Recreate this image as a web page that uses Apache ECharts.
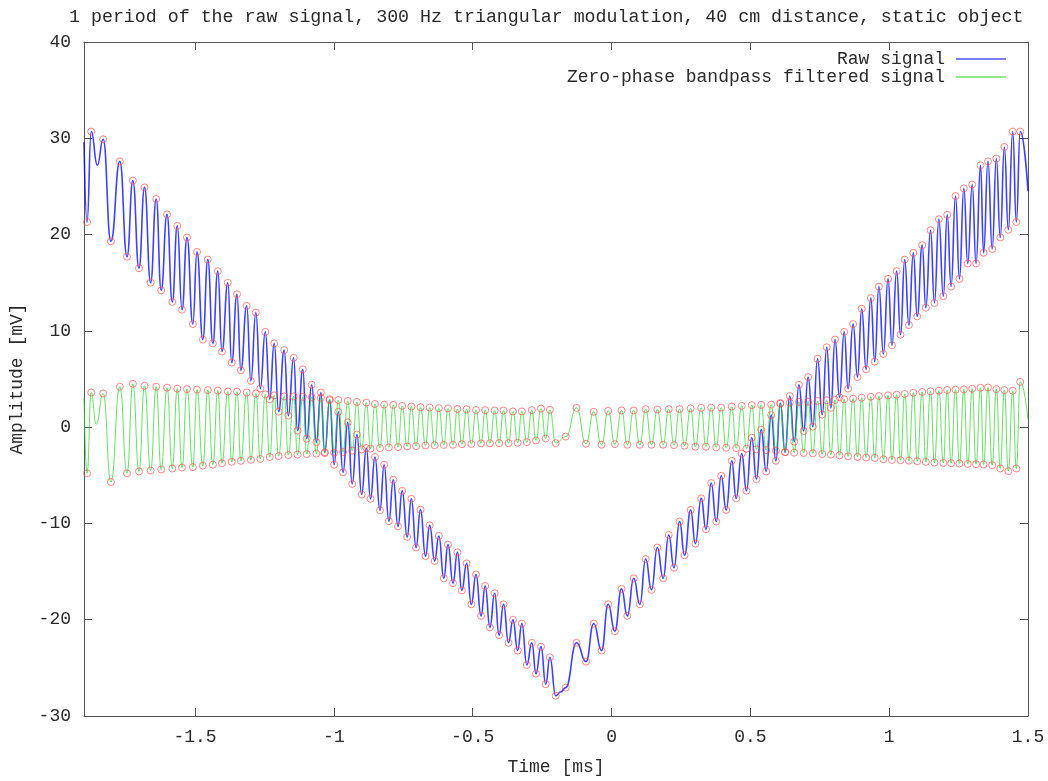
<!DOCTYPE html>
<html>
<head>
<meta charset="utf-8">
<script src="https://cdn.jsdelivr.net/npm/echarts@6/dist/echarts.min.js"></script>
<style>
html,body{margin:0;padding:0;background:#fff;}
#chart{width:1048px;height:781px;}
</style>
</head>
<body>
<div id="chart"></div>
<script>
// ---- Data ----
// Times (ms) of the circled extrema (shared by both signals)
const extremaT = [
-1.889,-1.874,-1.831,-1.803,-1.771,-1.745,-1.724,-1.702,-1.682,-1.660,
-1.640,-1.622,-1.601,-1.582,-1.564,-1.547,-1.529,-1.508,-1.493,-1.472,
-1.454,-1.436,-1.418,-1.403,-1.382,-1.368,-1.349,-1.335,-1.314,-1.299,
-1.281,-1.265,-1.247,-1.231,-1.215,-1.199,-1.179,-1.164,-1.145,-1.131,
-1.112,-1.098,-1.080,-1.063,-1.047,-1.033,-1.015,-0.999,-0.984,-0.967,
-0.950,-0.934,-0.917,-0.900,-0.883,-0.868,-0.852,-0.834,-0.819,-0.802,
-0.786,-0.769,-0.754,-0.736,-0.721,-0.704,-0.688,-0.670,-0.655,-0.637,
-0.622,-0.604,-0.589,-0.571,-0.555,-0.539,-0.522,-0.505,-0.488,-0.470,
-0.455,-0.438,-0.421,-0.405,-0.389,-0.371,-0.355,-0.338,-0.323,-0.305,
-0.287,-0.272,-0.254,-0.237,-0.222,-0.201,-0.165,-0.126,-0.092,-0.064,
-0.036,-0.012,0.012,0.036,0.057,0.080,0.102,0.123,0.144,0.165,
0.186,0.206,0.225,0.245,0.263,0.285,0.302,0.323,0.340,0.359,
0.377,0.395,0.413,0.433,0.449,0.469,0.486,0.505,0.522,0.539,
0.557,0.575,0.592,0.608,0.625,0.642,0.658,0.675,0.692,0.708,
0.725,0.742,0.759,0.775,0.790,0.805,0.821,0.838,0.852,0.870,
0.886,0.901,0.917,0.934,0.948,0.963,0.979,0.996,1.010,1.027,
1.041,1.056,1.071,1.087,1.101,1.119,1.132,1.149,1.163,1.179,
1.195,1.209,1.223,1.239,1.253,1.269,1.283,1.299,1.313,1.329,
1.340,1.356,1.371,1.386,1.400,1.415,1.429,1.445,1.458,1.472
];
// Raw signal value (mV) at each circled extremum
const rawExtrema = [
21.3,30.7,29.9,19.3,27.6,17.7,25.6,16.5,24.9,15.0,
23.7,14.2,22.1,13.0,20.9,12.2,19.7,10.7,18.2,9.1,
17.4,8.7,16.2,7.85,15.0,6.7,13.8,5.9,12.6,4.8,
11.9,4.0,9.9,2.9,8.7,1.6,8.0,1.2,7.2,-0.36,
6.0,-1.2,4.4,-1.56,3.6,-2.6,2.8,-3.9,1.6,-4.7,
0.5,-5.9,-0.77,-7.0,-2.17,-7.44,-3.1,-8.64,-3.9,-9.77,
-5.46,-10.3,-6.62,-11.4,-7.44,-12.5,-8.57,-13.4,-10.2,-13.9,
-11.3,-15.7,-12.2,-16.2,-13.0,-16.96,-14.15,-18.4,-15.3,-19.6,
-16.5,-20.8,-17.25,-21.6,-18.4,-22.4,-20.0,-23.2,-20.4,-24.7,
-22.4,-25.6,-22.8,-26.7,-23.9,-27.9,-27.05,-22.4,-24.35,-20.4,
-23.2,-18.4,-21.2,-16.8,-19.6,-15.7,-18.4,-13.7,-16.9,-12.5,
-15.7,-11.2,-14.6,-9.8,-13.3,-8.6,-12.1,-7.4,-10.6,-5.8,
-9.8,-5.05,-8.6,-3.5,-7.4,-2.75,-6.6,-1.1,-5.4,-0.26,
-4.6,1.25,-3.5,2.5,-2.6,3.23,-1.5,4.4,-0.4,5.2,
0.05,7.1,1.3,8.3,2.0,9.1,3.1,9.9,4.0,10.7,
5.2,12.3,6.0,13.4,6.8,14.6,7.6,15.4,8.5,16.2,
9.6,17.4,10.6,18.1,11.5,18.9,12.4,20.45,12.9,21.6,
13.6,22.05,14.6,24.0,15.4,24.8,17.0,25.2,17.0,27.2,
18.1,27.6,18.5,27.9,19.7,29.1,20.5,30.7,21.3,30.7
];
// Filtered signal value (mV) at each circled extremum
const filtExtrema = [
-4.8,3.6,3.5,-5.7,4.2,-4.8,4.5,-4.6,4.3,-4.5,
4.2,-4.4,4.1,-4.3,4.0,-4.2,3.95,-4.15,3.9,-4.0,
3.85,-3.9,3.8,-3.75,3.7,-3.6,3.7,-3.5,3.6,-3.4,
3.5,-3.3,3.4,-3.1,3.3,-3.0,3.2,-2.9,3.2,-2.85,
3.15,-2.8,3.1,-2.75,3.05,-2.7,2.9,-2.65,2.82,-2.59,
2.72,-2.44,2.62,-2.31,2.55,-2.24,2.41,-2.18,2.34,-2.10,
2.31,-2.07,2.21,-2.0,2.14,-1.97,2.07,-1.90,2.03,-1.88,
1.97,-1.85,1.95,-1.83,1.88,-1.77,1.85,-1.75,1.78,-1.69,
1.77,-1.68,1.73,-1.66,1.72,-1.66,1.63,-1.62,1.63,-1.56,
1.77,-1.39,1.93,-1.18,1.8,-1.66,-0.98,2.0,-1.72,1.59,
-1.83,1.69,-1.77,1.73,-1.83,1.73,-1.83,1.87,-1.83,1.83,
-1.83,1.87,-1.87,1.87,-1.93,1.95,-2.03,2.0,-2.03,2.03,
-2.1,2.03,-2.14,2.14,-2.18,2.21,-2.24,2.28,-2.31,2.31,
-2.38,2.34,-2.44,2.44,-2.59,2.55,-2.65,2.62,-2.69,2.65,
-2.72,2.72,-2.79,2.79,-2.86,2.82,-2.93,2.89,-3.03,2.96,
-3.1,3.06,-3.16,3.16,-3.2,3.23,-3.34,3.3,-3.41,3.37,
-3.44,3.45,-3.48,3.58,-3.54,3.65,-3.61,3.72,-3.68,3.79,
-3.71,3.86,-3.75,3.89,-3.78,3.92,-3.82,3.99,-3.85,4.09,
-3.88,4.12,-3.95,3.95,-4.29,3.85,-4.57,3.78,-4.29,4.7
];
// Non-circled points of the traces (ends and small wiggles)
const rawOtherT = [-1.9, -1.852, -0.183, 1.5];
const rawOtherV = [29.6, 27.2, -27.5, 24.5];
const filtOtherT = [-1.9, -1.856, 1.5];
const filtOtherV = [3.0, 0.3, 0.8];

const xTickValues = [-1.5, -1, -0.5, 0, 0.5, 1, 1.5];
const titleText = '1 period of the raw signal, 300 Hz triangular modulation, 40 cm distance, static object';
const rawName = 'Raw signal';
const filtName = 'Zero-phase bandpass filtered signal';

if (extremaT.length !== rawExtrema.length || extremaT.length !== filtExtrema.length) {
  throw new Error('length mismatch ' + extremaT.length + ' ' + rawExtrema.length + ' ' + filtExtrema.length);
}

function traceData(vals, otherT, otherV) {
  const pts = extremaT.map((t, i) => [t, vals[i]]);
  otherT.forEach((t, i) => pts.push([t, otherV[i]]));
  pts.sort((a, b) => a[0] - b[0]);
  return pts;
}
const rawLine = traceData(rawExtrema, rawOtherT, rawOtherV);
const filtLine = traceData(filtExtrema, filtOtherT, filtOtherV);
const circles = extremaT.map((t, i) => [t, rawExtrema[i]])
  .concat(extremaT.map((t, i) => [t, filtExtrema[i]]));

const FONT = "'Liberation Mono', 'DejaVu Sans Mono', monospace";
const TXT = '#2a2a2a';
const AX = '#555';

const chart = echarts.init(document.getElementById('chart'), null, {renderer: 'canvas'});
const baseX = {
  type: 'value', min: -1.9, max: 1.5,
  axisLine: {show: true, onZero: false, lineStyle: {color: AX, width: 1}},
  axisTick: {show: true, inside: true, length: 8, customValues: xTickValues, lineStyle: {color: AX}},
  splitLine: {show: false}
};
const baseY = {
  type: 'value', min: -30, max: 40, interval: 10,
  axisLine: {show: true, onZero: false, lineStyle: {color: AX, width: 1}},
  axisTick: {show: true, inside: true, length: 8, lineStyle: {color: AX}},
  splitLine: {show: false}
};
chart.setOption({
  animation: false,
  backgroundColor: '#fff',
  title: {
    text: titleText, left: 64, top: 3,
    textStyle: {fontFamily: FONT, fontSize: 18.3, fontWeight: 'normal', color: TXT}
  },
  grid: {left: 81, right: 20, top: 42, bottom: 57, containLabel: false},
  legend: [
    {data: [rawName], right: 42, top: 50, padding: 0, align: 'right', orient: 'vertical',
     icon: 'rect', itemWidth: 50, itemHeight: 1.5,
     textStyle: {fontFamily: FONT, fontSize: 18, color: TXT, padding: [0, 6, 0, 0]}},
    {data: [filtName], right: 42, top: 68, padding: 0, align: 'right', orient: 'vertical',
     icon: 'rect', itemWidth: 50, itemHeight: 1.5,
     textStyle: {fontFamily: FONT, fontSize: 18, color: TXT, padding: [0, 6, 0, 0]}}
  ],
  xAxis: [
    Object.assign({}, baseX, {
      position: 'bottom',
      name: 'Time [ms]', nameLocation: 'middle', nameGap: 42,
      nameTextStyle: {fontFamily: FONT, fontSize: 18, color: TXT},
      axisLabel: {show: true, customValues: xTickValues, margin: 12,
        fontFamily: FONT, fontSize: 18, color: TXT,
        formatter: v => String(v)}
    }),
    Object.assign({}, baseX, {position: 'top', axisLabel: {show: false}})
  ],
  yAxis: [
    Object.assign({}, baseY, {
      position: 'left',
      name: 'Amplitude [mV]', nameLocation: 'middle', nameGap: 58, nameRotate: 90,
      nameTextStyle: {fontFamily: FONT, fontSize: 18, color: TXT},
      axisLabel: {show: true, margin: 13, showMinLabel: true, showMaxLabel: true,
        fontFamily: FONT, fontSize: 18, color: TXT}
    }),
    Object.assign({}, baseY, {position: 'right', axisLabel: {show: false}})
  ],
  series: [
    {
      name: rawName, type: 'line', data: rawLine, xAxisIndex: 0, yAxisIndex: 0,
      color: '#5050ff',
      showSymbol: false, symbol: 'none', smooth: 0.5, smoothMonotone: 'x',
      lineStyle: {color: 'rgba(0,0,255,0.75)', width: 1.6},
      z: 2
    },
    {
      name: filtName, type: 'line', data: filtLine, xAxisIndex: 0, yAxisIndex: 0,
      color: '#70e070',
      showSymbol: false, symbol: 'none', smooth: 0.5, smoothMonotone: 'x',
      lineStyle: {color: 'rgba(40,210,40,0.7)', width: 1},
      z: 3
    },
    {
      name: 'extrema', type: 'scatter', data: circles, xAxisIndex: 0, yAxisIndex: 0,
      symbol: 'circle', symbolSize: 7,
      itemStyle: {color: 'rgba(0,0,0,0)', borderColor: 'rgba(255,70,70,0.8)', borderWidth: 1},
      emphasis: {disabled: true},
      z: 4
    }
  ]
});
</script>
</body>
</html>
